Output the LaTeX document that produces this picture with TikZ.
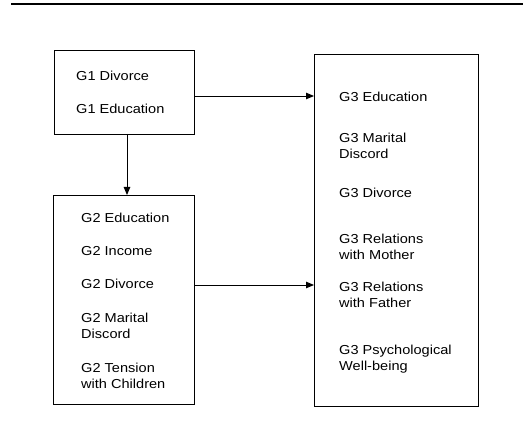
\documentclass[tikz,border=0pt]{standalone}
\usepackage{fontspec}
\setmainfont{Liberation Sans}[FakeStretch=1.12]
\usetikzlibrary{arrows.meta}
\begin{document}
\begin{tikzpicture}[x=1pt,y=-1pt,
  box/.style={draw=black, line width=0.9pt, inner sep=0, outer sep=0, anchor=north west},
  lbl/.style={anchor=base west, inner sep=0, align=left, font=\fontsize{13}{16}\selectfont},
  conn/.style={draw=black, line width=0.9pt, -{Triangle[length=8pt,width=6.5pt]}}]
\useasboundingbox (0,0) rectangle (523,427);
\draw[line width=1.6pt] (11,4) -- (523,4);
% boxes
\node[box, minimum width=140pt, minimum height=84pt] (b1) at (54,50) {};
\node[box, minimum width=141pt, minimum height=209pt] (b2) at (53,195) {};
\node[box, minimum width=164pt, minimum height=352pt] (b3) at (314,54) {};
% labels box 1
\node[lbl] (g1div) at (76,80.5) {G1 Divorce};
\node[lbl] (g1edu) at (76,113.5) {G1 Education};
% labels box 2
\node[lbl] (g2edu) at (81,222.5) {G2 Education};
\node[lbl] (g2inc) at (81,255.5) {G2 Income};
\node[lbl] (g2div) at (81,288.5) {G2 Divorce};
\node[lbl] (g2mar) at (81,338.5) {G2 Marital\\Discord};
\node[lbl] (g2ten) at (81,388.5) {G2 Tension\\with Children};
% labels box 3
\node[lbl] (g3edu) at (339,101.5) {G3 Education};
\node[lbl] (g3mar) at (339,158.5) {G3 Marital\\Discord};
\node[lbl] (g3div) at (339,197.5) {G3 Divorce};
\node[lbl] (g3mot) at (339,259.5) {G3 Relations\\with Mother};
\node[lbl] (g3fat) at (339,307.5) {G3 Relations\\with Father};
\node[lbl] (g3psy) at (339,370.5) {G3 Psychological\\Well-being};
% connectors
\coordinate (r1) at (0,96);
\coordinate (r2) at (0,285);
\coordinate (d1) at (127,0);
\draw[conn] (b1.east |- r1) -- (b3.west |- r1);
\draw[conn] (b1.south -| d1) -- (b2.north -| d1);
\draw[conn] (b2.east |- r2) -- (b3.west |- r2);
\end{tikzpicture}
\end{document}
